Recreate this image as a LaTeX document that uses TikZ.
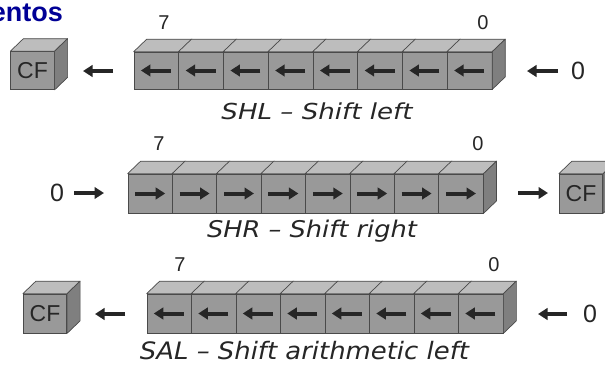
\documentclass[tikz,border=0pt]{standalone}
\usepackage{fontspec}
\setmainfont{Liberation Sans}
\newfontfamily\lblfont{DejaVu Sans}
\usetikzlibrary{arrows.meta}
\definecolor{frontc}{HTML}{999999}
\definecolor{topc}{HTML}{BDBDBD}
\definecolor{sidec}{HTML}{7F7F7F}
\definecolor{edgec}{HTML}{4A4A4A}
\definecolor{arrc}{HTML}{262626}
\definecolor{titleblue}{RGB}{0,0,150}
\tikzset{
  cell/.style={draw=edgec, fill=frontc, line width=0.7pt, inner sep=0pt, minimum width=44.6pt, minimum height=38pt},
  cfbox/.style={cell, minimum width=43.5pt, text=arrc, font=\fontsize{23}{23}\selectfont},
  topface/.style={draw=edgec, fill=topc, line width=0.7pt, line join=round},
  sideface/.style={draw=edgec, fill=sidec, line width=0.7pt, line join=round},
  arr/.style={draw=arrc, line width=4pt, -{Triangle[length=9.5pt,width=11.5pt]}},
  bitnum/.style={inner sep=0pt, text=arrc, font=\fontsize{20}{20}\selectfont},
  zeroin/.style={inner sep=0pt, text=arrc, font=\fontsize{25}{25}\selectfont},
  opname/.style={inner sep=0pt, text=black!85, font=\lblfont\itshape},
}
% cube faces helpers (top and side) for a node
\newcommand\cubetop[1]{\draw[topface] (#1.north west) -- ++(13,-12.5) -- ([shift={(13,-12.5)}]#1.north east) -- (#1.north east) -- cycle;}
\newcommand\cubeside[1]{\draw[sideface] (#1.north east) -- ++(13,-12.5) -- ([shift={(13,-12.5)}]#1.south east) -- (#1.south east) -- cycle;}
\begin{document}
\begin{tikzpicture}[x=1pt,y=-1pt]
\useasboundingbox[fill=white] (0,0) rectangle (605,365);

% title fragment
\node[anchor=base east, inner sep=0pt, text=titleblue, font=\bfseries\fontsize{27}{27}\selectfont] (title) at (63,21) {entos};

% ---------- Row 1: SHL ----------
\node[cfbox] (cfa) at (32.5,70.5) {CF};
\cubetop{cfa}\cubeside{cfa}
\foreach \i in {0,...,7} {
  \node[cell, minimum height=37pt] (a\i) at ({134+44.75*(\i+0.5)},70.5) {};
  \cubetop{a\i}
  \draw[arr] ([xshift=14.5pt]a\i.center) -- ([xshift=-15.5pt]a\i.center);
}
\cubeside{a7}
\node[bitnum] (a7lbl) at (164,23) {7};
\node[bitnum] (a0lbl) at (483,23) {0};
\coordinate (aL1) at (113,71); \coordinate (aL2) at (83,71);
\draw[arr] (aL1) -- (aL2);
\coordinate (aR1) at (558,71); \coordinate (aR2) at (527,71);
\draw[arr] (aR1) -- (aR2);
\node[zeroin] (azero) at (578,71) {0};
\node[opname] (shl) at (317,111) {\fontsize{22}{22}\selectfont\resizebox{191pt}{\height}{SHL – Shift left}};

% ---------- Row 2: SHR ----------
\foreach \i in {0,...,7} {
  \node[cell, minimum width=44.4pt, minimum height=39pt] (b\i) at ({128+44.4*(\i+0.5)},193.5) {};
  \cubetop{b\i}
  \draw[arr] ([xshift=-15pt]b\i.center) -- ([xshift=15pt]b\i.center);
}
\cubeside{b7}
\node[cfbox, minimum height=39pt] (cfb) at (581,193.5) {CF};
\cubetop{cfb}\cubeside{cfb}
\node[bitnum] (b7lbl) at (159,144) {7};
\node[bitnum] (b0lbl) at (478,144) {0};
\node[zeroin] (bzero) at (57,193) {0};
\coordinate (bL1) at (74,193); \coordinate (bL2) at (104,193);
\draw[arr] (bL1) -- (bL2);
\coordinate (bR1) at (518,193); \coordinate (bR2) at (548,193);
\draw[arr] (bR1) -- (bR2);
\node[opname] (shr) at (312,231) {\fontsize{23}{23}\selectfont\resizebox{210pt}{\height}{SHR – Shift right}};

% ---------- Row 3: SAL ----------
\node[cfbox, minimum height=39pt] (cfc) at (45,313.5) {CF};
\cubetop{cfc}\cubeside{cfc}
\foreach \i in {0,...,7} {
  \node[cell, minimum width=44.5pt, minimum height=39pt] (c\i) at ({147+44.5*(\i+0.5)},313.5) {};
  \cubetop{c\i}
  \draw[arr] ([xshift=14.5pt]c\i.center) -- ([xshift=-15.5pt]c\i.center);
}
\cubeside{c7}
\node[bitnum] (c7lbl) at (180,265) {7};
\node[bitnum] (c0lbl) at (494,265) {0};
\coordinate (cL1) at (125,314); \coordinate (cL2) at (95,314);
\draw[arr] (cL1) -- (cL2);
\coordinate (cR1) at (567,314); \coordinate (cR2) at (538,314);
\draw[arr] (cR1) -- (cR2);
\node[zeroin] (czero) at (590,314) {0};
\node[opname] (sal) at (304.5,351) {\fontsize{24}{24}\selectfont\resizebox{329pt}{\height}{SAL – Shift arithmetic left}};
\end{tikzpicture}
\end{document}
